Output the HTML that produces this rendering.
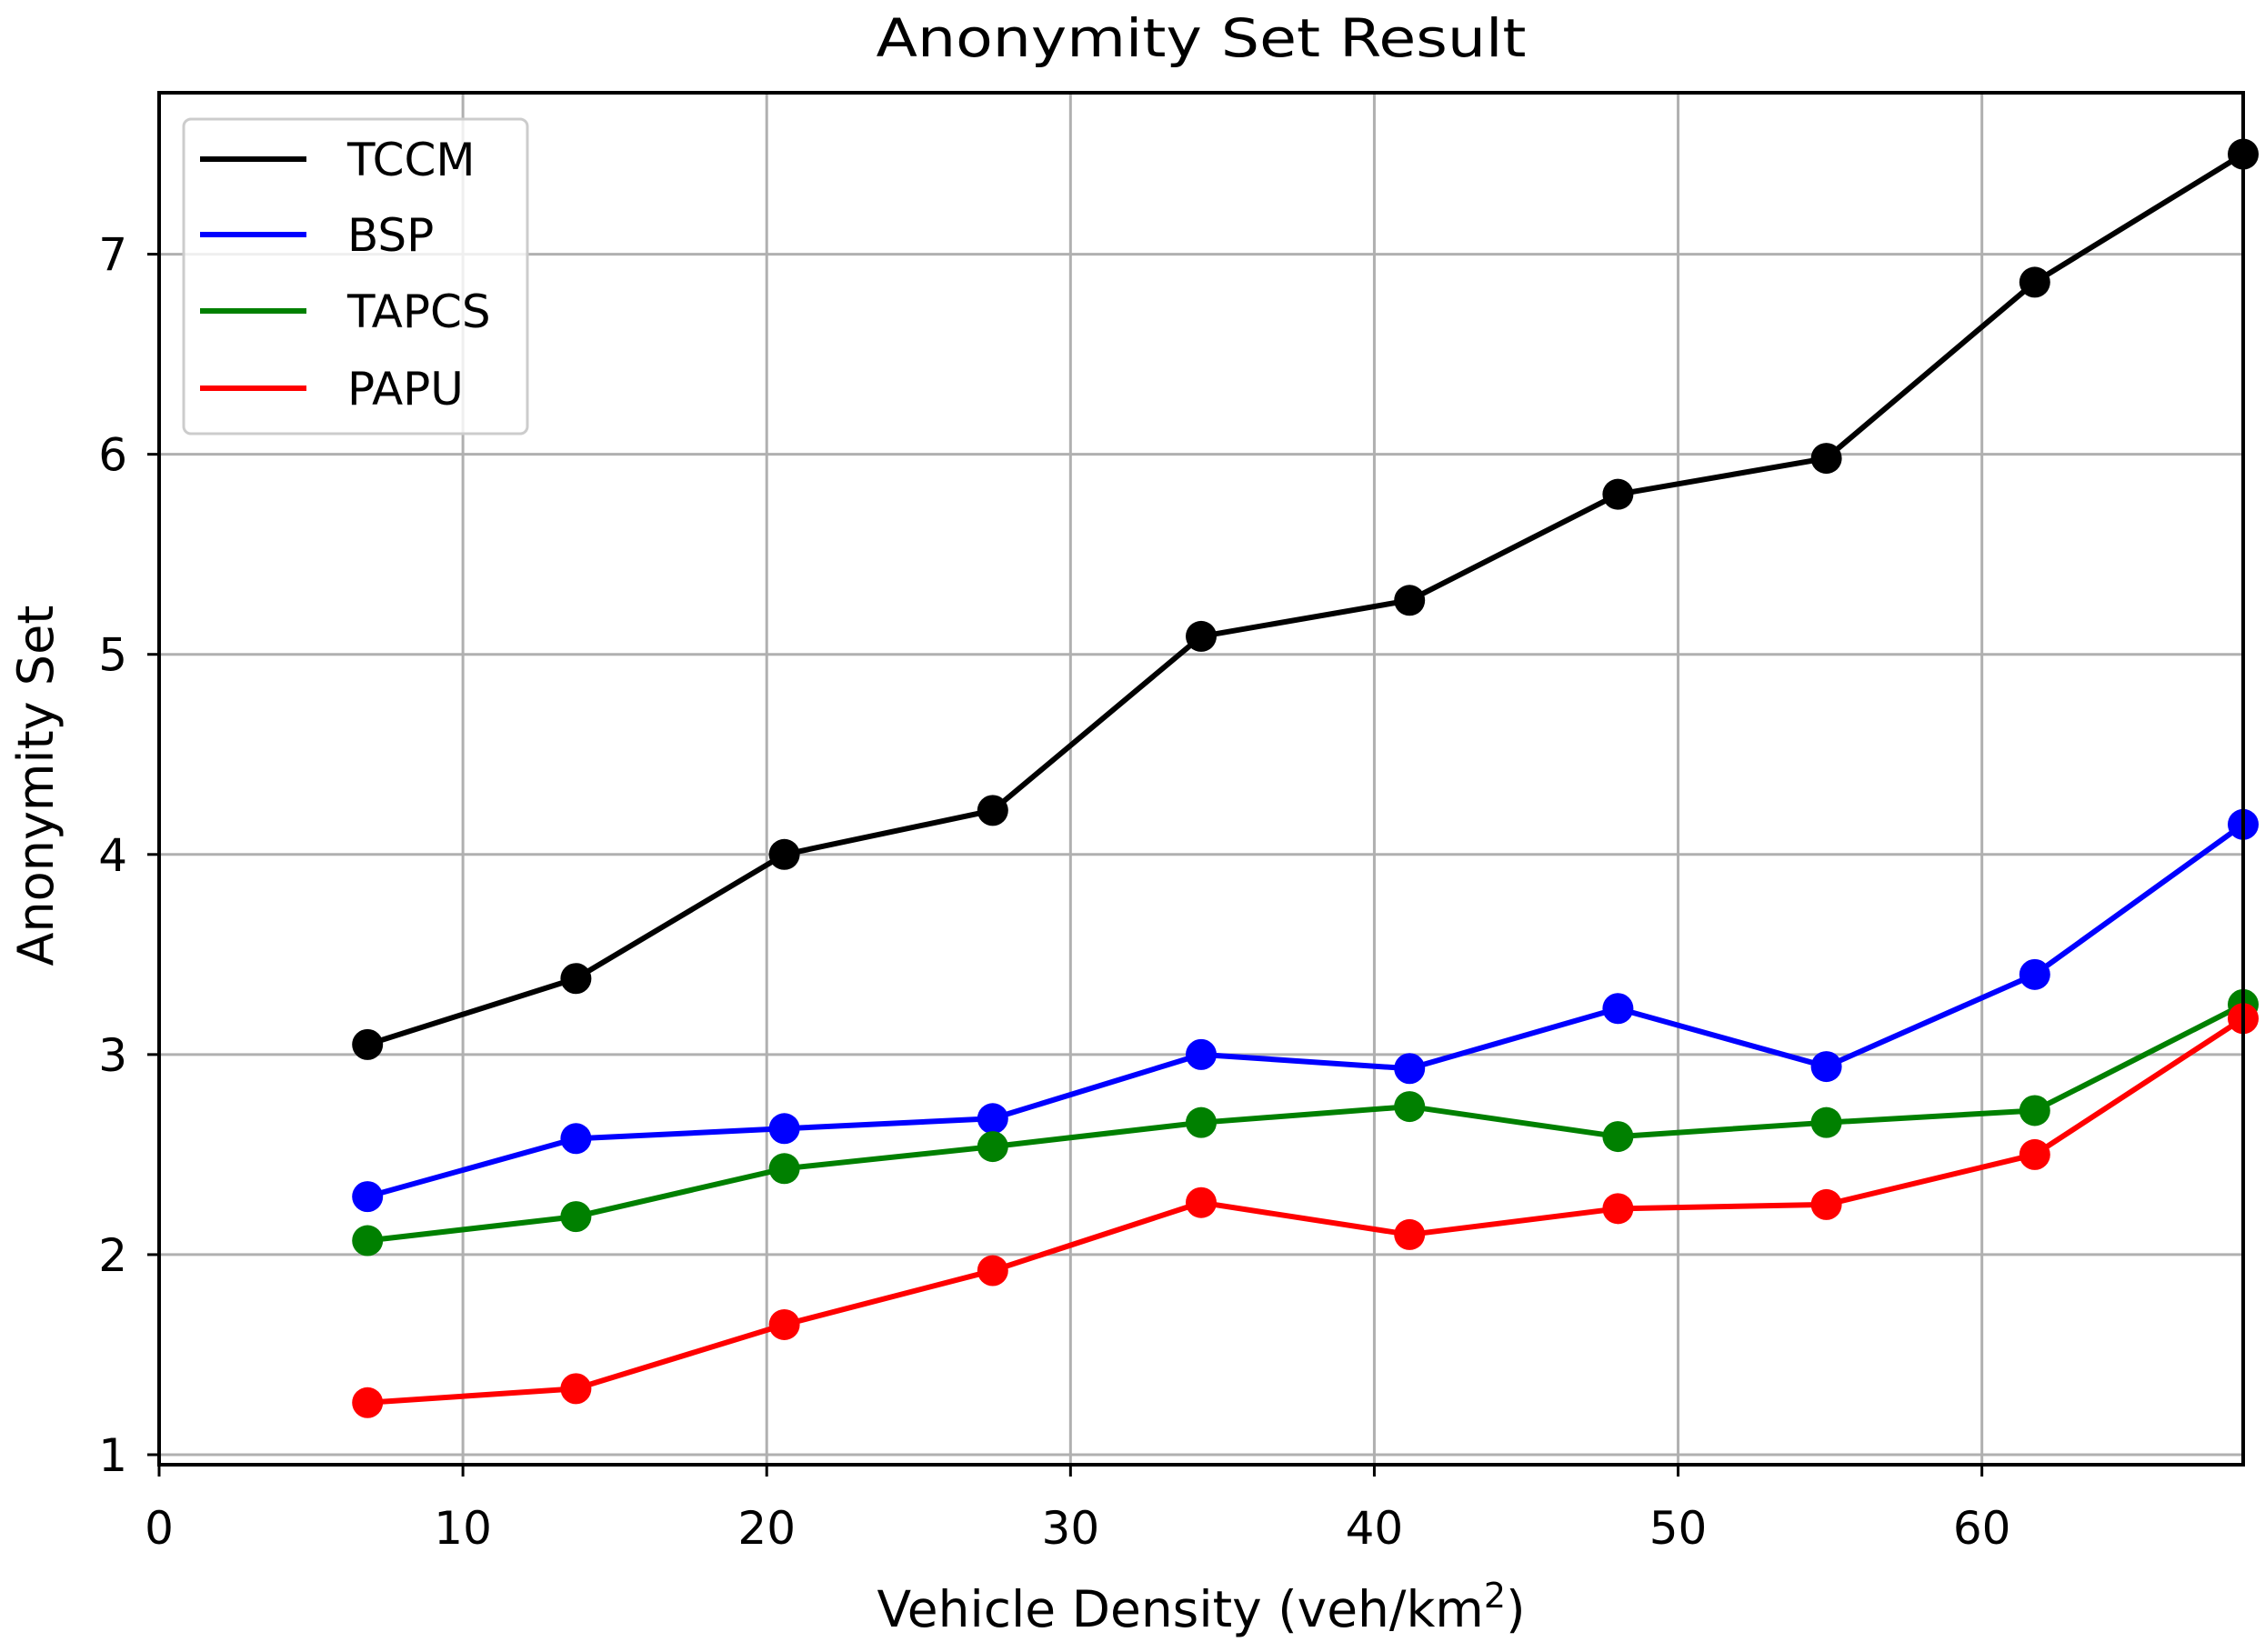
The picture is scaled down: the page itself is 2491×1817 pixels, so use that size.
<!DOCTYPE html>
<html><head><meta charset="utf-8"><style>
html,body{margin:0;padding:0;background:#fff;}
svg{display:block;font-family:"DejaVu Sans","Liberation Sans",sans-serif;}
</style></head><body>
<svg id="chart" width="2491" height="1817" viewBox="0 0 2491 1817" xmlns="http://www.w3.org/2000/svg">
<rect width="2491" height="1817" fill="#fff"/>
<text x="1321" y="62" font-size="58" text-anchor="middle" textLength="715" lengthAdjust="spacingAndGlyphs">Anonymity Set Result</text>
<g id="grid"></g>
<g id="ticks"></g>
<g id="series"></g>
<rect x="175" y="102" width="2292" height="1509" fill="none" stroke="#000" stroke-width="4"/>
<text x="1321" y="1789" font-size="55" text-anchor="middle">Vehicle Density (veh/km<tspan font-size="38" dy="-21">2</tspan><tspan dy="21">)</tspan></text>
<text transform="translate(58,864) rotate(-90)" font-size="54" text-anchor="middle">Anonymity Set</text>
<g id="legend">
<rect x="202" y="131" width="378" height="346" rx="8" fill="#fff" fill-opacity="0.8" stroke="#ccc" stroke-width="3"/>
</g>
</svg>
<script>
const categories = [6.86, 13.72, 20.58, 27.44, 34.3, 41.16, 48.02, 54.88, 61.74, 68.6];
const seriesNames = ["TCCM", "BSP", "TAPCS", "PAPU"];
const seriesColors = ["#000000", "#0000ff", "#008000", "#ff0000"];
const tccm = [3.05, 3.38, 4.0, 4.22, 5.09, 5.27, 5.8, 5.98, 6.86, 7.5];
const bsp = [2.29, 2.58, 2.63, 2.68, 3.0, 2.93, 3.23, 2.94, 3.4, 4.15];
const tapcs = [2.07, 2.19, 2.43, 2.54, 2.66, 2.74, 2.59, 2.66, 2.72, 3.25];
const papu = [1.26, 1.33, 1.65, 1.92, 2.26, 2.10, 2.23, 2.25, 2.5, 3.18];
const xTicks = [0, 10, 20, 30, 40, 50, 60];
const yTicks = [1, 2, 3, 4, 5, 6, 7];

const NS = "http://www.w3.org/2000/svg";
const L = 175, R = 2467, T = 102, B = 1611;
const xMin = 0, xMax = 68.6, yMin = 0.95, yMax = 7.807;
function xs(v){ return L + (v - xMin) / (xMax - xMin) * (R - L); }
function ys(v){ return B - (v - yMin) / (yMax - yMin) * (B - T); }
function mk(tag, attrs, parent){ const e = document.createElementNS(NS, tag); for (const k in attrs) e.setAttribute(k, attrs[k]); parent.appendChild(e); return e; }

const grid = document.getElementById('grid');
const ticks = document.getElementById('ticks');
xTicks.forEach(v => {
  const g = mk('line', {x1: xs(v), x2: xs(v), y1: T, y2: B, stroke: '#b0b0b0', 'stroke-width': 3}, grid);
  
  
  const t = mk('line', {x1: xs(v), x2: xs(v), y1: B, y2: B + 13, stroke: '#000', 'stroke-width': 3}, ticks);
  
  
  const lb = mk('text', {x: xs(v), y: 1698, 'font-size': 50, 'text-anchor': 'middle'}, ticks);
  lb.textContent = v;
  
  
});
yTicks.forEach(v => {
  const g = mk('line', {x1: L, x2: R, y1: ys(v), y2: ys(v), stroke: '#b0b0b0', 'stroke-width': 3}, grid);
  
  
  const t = mk('line', {x1: L - 13, x2: L, y1: ys(v), y2: ys(v), stroke: '#000', 'stroke-width': 3}, ticks);
  
  
  const lb = mk('text', {x: 140, y: ys(v) + 18, 'font-size': 50, 'text-anchor': 'end'}, ticks);
  lb.textContent = v;
  
  
});

const seriesG = document.getElementById('series');
const allSeries = [tccm, bsp, tapcs, papu];
allSeries.forEach((vals, si) => {
  const g = mk('g', {}, seriesG);
  
  
  const pts = vals.map((v, i) => xs(categories[i]) + ',' + ys(v)).join(' ');
  const pl = mk('polyline', {points: pts, fill: 'none', stroke: seriesColors[si], 'stroke-width': 6, 'stroke-linejoin': 'round'}, g);
  
  
  vals.forEach((v, i) => {
    const c = mk('circle', {cx: xs(categories[i]), cy: ys(v), r: 17, fill: seriesColors[si]}, g);
    
    
  });
});

const legend = document.getElementById('legend');
const rowsY = [175, 258, 342, 427];
seriesNames.forEach((n, i) => {
  const ln = mk('line', {x1: 220, x2: 337, y1: rowsY[i], y2: rowsY[i], stroke: seriesColors[i], 'stroke-width': 6}, legend);
  
  
  const tx = mk('text', {x: 382, y: rowsY[i] + 18, 'font-size': 50}, legend);
  tx.textContent = n;
  
  
});
</script>
</body></html>
